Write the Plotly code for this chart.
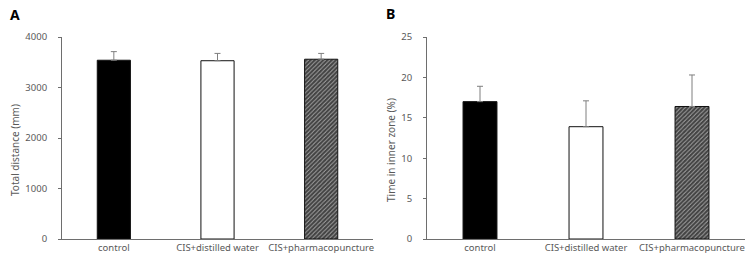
import plotly.graph_objects as go

categories = ["control", "CIS+distilled water", "CIS+pharmacopuncture"]
distance_mean = [3540, 3530, 3560]
distance_err = [170, 145, 115]
inner_mean = [17.0, 13.9, 16.4]
inner_err = [1.9, 3.2, 3.9]
fill_colors = ["black", "white", "white"]
patterns = ["", "", "/"]

W, H = 753, 267
L, R, T, B = 62, 8, 37, 28
PW = W - L - R
PH = H - T - B
FONT = "Noto Sans"
GRAY = "#595959"
AX = "#6e6e6e"


def px(x):
    return (x - L) / PW


def py(y):
    return (H - B - y) / PH


fig = go.Figure()

for i, (means, errs) in enumerate([(distance_mean, distance_err), (inner_mean, inner_err)]):
    xa = "x" if i == 0 else "x2"
    ya = "y" if i == 0 else "y2"
    fig.add_trace(go.Bar(
        x=categories, y=means, xaxis=xa, yaxis=ya, width=0.32,
        marker=dict(color=fill_colors, line=dict(color="#111111", width=1),
                    pattern=dict(shape=patterns, fgcolor="black", bgcolor="white",
                                 fgopacity=1, size=3, solidity=0.85)),
        error_y=dict(type="data", symmetric=False, array=errs, arrayminus=[0, 0, 0],
                     color="#7f7f7f", thickness=1, width=3),
        showlegend=False,
    ))

common_x = dict(showline=True, linecolor=AX, linewidth=1, ticks="", showgrid=False,
                automargin=False,
                tickfont=dict(family=FONT, size=9.5, color=GRAY), fixedrange=True)
common_y = dict(showline=True, linecolor=AX, linewidth=1, ticks="outside", ticklen=3,
                tickcolor=AX, showgrid=False, zeroline=False, domain=[0, 1],
                automargin=False, ticklabelstandoff=9,
                tickfont=dict(family=FONT, size=9.5, color=GRAY))

fig.update_layout(
    width=W, height=H, margin=dict(l=L, r=R, t=T, b=B, autoexpand=False),
    plot_bgcolor="white", paper_bgcolor="white",
    xaxis=dict(domain=[0, px(373)], anchor="y", **common_x),
    xaxis2=dict(domain=[px(427), 1], anchor="y2", **common_x),
    yaxis=dict(range=[0, 4000], dtick=1000, anchor="x", **common_y),
    yaxis2=dict(range=[0, 25], dtick=5, anchor="x2", **common_y),
    annotations=[
        dict(text="<b>A</b>", x=px(8), y=py(15), xref="paper", yref="paper",
             xanchor="left", yanchor="middle", showarrow=False,
             font=dict(family=FONT, size=14, color="black")),
        dict(text="<b>B</b>", x=px(384), y=py(14), xref="paper", yref="paper",
             xanchor="left", yanchor="middle", showarrow=False,
             font=dict(family=FONT, size=14, color="black")),
        dict(text="Total distance (mm)", x=px(15), y=py(150), xref="paper", yref="paper",
             xanchor="center", yanchor="middle", showarrow=False, textangle=-90,
             font=dict(family=FONT, size=10, color=GRAY)),
        dict(text="Time in inner zone (%)", x=px(391), y=py(150), xref="paper", yref="paper",
             xanchor="center", yanchor="middle", showarrow=False, textangle=-90,
             font=dict(family=FONT, size=10, color=GRAY)),
    ],
)

fig.write_html("out.html", config={"displayModeBar": False},
               post_script="document.body.style.margin='0';")
